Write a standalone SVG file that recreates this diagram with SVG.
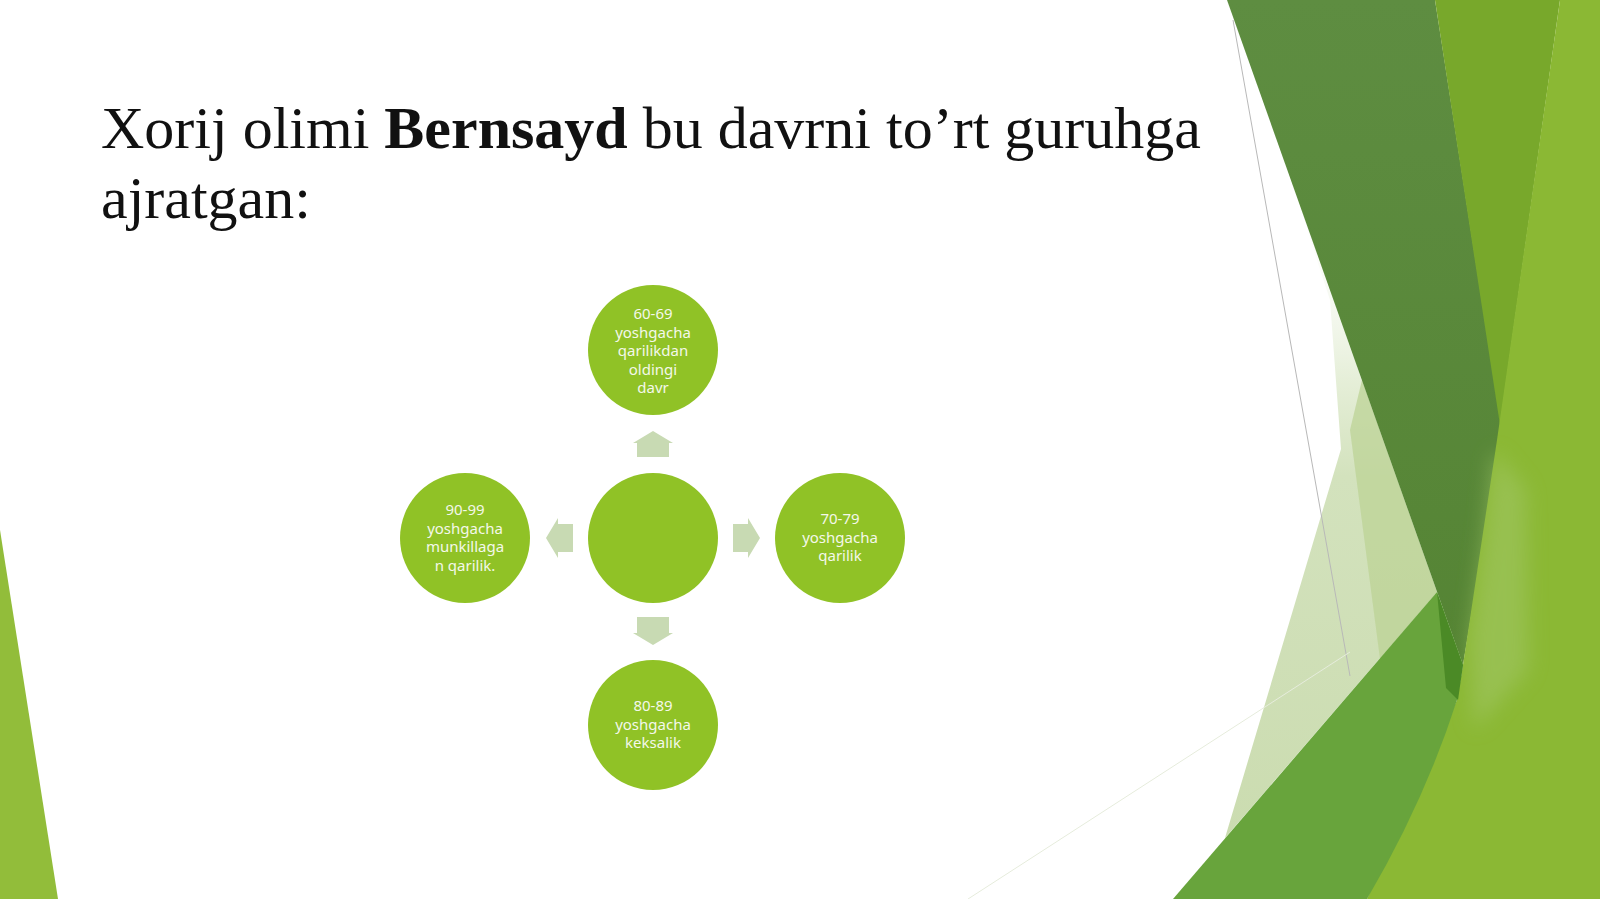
<svg xmlns="http://www.w3.org/2000/svg" width="1600" height="899" viewBox="0 0 1600 899">
  <style>
    .node { fill: #90C226; }
    .lbl { font-family: "Noto Sans", "Open Sans", sans-serif; font-size: 15px; fill: #f4f8ea; text-anchor: middle; }
    .arrow { fill: #c8dab3; }
    .title { font-family: "Liberation Serif", "Times New Roman", serif; font-size: 60px; fill: #111111; }
  </style>
  <defs>
    <linearGradient id="pale" x1="0" y1="0" x2="0" y2="1" gradientUnits="objectBoundingBox">
      <stop offset="0" stop-color="#ffffff" stop-opacity="0"/>
      <stop offset="0.3" stop-color="#e6efd9"/>
      <stop offset="0.45" stop-color="#d3e2bd"/>
      <stop offset="1" stop-color="#cbdcb0"/>
    </linearGradient>
    <linearGradient id="darkband" x1="0" y1="0" x2="0" y2="1">
      <stop offset="0" stop-color="#5e8d41"/>
      <stop offset="1" stop-color="#558434"/>
    </linearGradient>
    <filter id="soft" x="-50%" y="-30%" width="200%" height="160%">
      <feGaussianBlur stdDeviation="10"/>
    </filter>
  </defs>
  <rect x="0" y="0" width="1600" height="899" fill="#ffffff"/>

  <!-- background facets -->
  <g id="background">
    <polygon points="1291,180 1437,592 1225,838 1341,449 1330,300" fill="url(#pale)"/>
    <polygon points="1362,380 1437,592 1380,659 1350,430" fill="#bcd396" opacity="0.75"/>
    <polygon points="1227,0 1435,0 1502,430 1463,665" fill="url(#darkband)"/>
    <polygon points="1435,0 1560,0 1500,425" fill="#78a82b"/>
    <polygon points="1560,0 1600,0 1600,899 1367,899 1457,700 1463,665 1497,440" fill="#8bb834"/>
    <polygon points="1494,450 1526,490 1528,670 1474,730 1470,640 1484,540" fill="#a2c767" opacity="0.55" filter="url(#soft)"/>
    <path d="M1437,592 L1463,665 L1457,700 Q1425,800 1367,899 L1173,899 Z" fill="#68a43c"/>
    <polygon points="1437,592 1463,665 1458,700 1446,688" fill="#4b8a26"/>
    <line x1="1233" y1="20" x2="1350" y2="676" stroke="#b8b8b8" stroke-width="1"/>
    <line x1="968" y1="899" x2="1350" y2="652" stroke="#e6ecdc" stroke-width="1"/>
    <polygon points="0,530 58,899 0,899" fill="#92bd3a"/>
  </g>

  <!-- title -->
  <g id="title">
    <text class="title" x="101" y="148">Xorij olimi <tspan font-weight="bold">Bernsayd</tspan> bu davrni to’rt guruhga</text>
    <text class="title" x="101" y="218">ajratgan:</text>
  </g>

  <!-- connectors -->
  <g id="connectors">
    <polygon class="arrow" points="653,431 673,443 669,443 669,457 637,457 637,443 633,443"/>
    <polygon class="arrow" points="760,538 748,558 748,552 733,552 733,524 748,524 748,518"/>
    <polygon class="arrow" points="653,645 673,633 669,633 669,617 637,617 637,633 633,633"/>
    <polygon class="arrow" points="546,538 558,558 558,552 573,552 573,524 558,524 558,518"/>
  </g>

  <g id="center">
    <circle class="node" cx="653" cy="538" r="65"/>
  </g>

  <g id="node-top">
    <circle class="node" cx="653" cy="350" r="65"/>
    <text class="lbl" x="653" y="319">60-69</text>
    <text class="lbl" x="653" y="337.5">yoshgacha</text>
    <text class="lbl" x="653" y="356">qarilikdan</text>
    <text class="lbl" x="653" y="374.5">oldingi</text>
    <text class="lbl" x="653" y="393">davr</text>
  </g>

  <g id="node-right">
    <circle class="node" cx="840" cy="538" r="65"/>
    <text class="lbl" x="840" y="524">70-79</text>
    <text class="lbl" x="840" y="542.5">yoshgacha</text>
    <text class="lbl" x="840" y="561">qarilik</text>
  </g>

  <g id="node-bottom">
    <circle class="node" cx="653" cy="725" r="65"/>
    <text class="lbl" x="653" y="711">80-89</text>
    <text class="lbl" x="653" y="729.5">yoshgacha</text>
    <text class="lbl" x="653" y="748">keksalik</text>
  </g>

  <g id="node-left">
    <circle class="node" cx="465" cy="538" r="65"/>
    <text class="lbl" x="465" y="515">90-99</text>
    <text class="lbl" x="465" y="533.5">yoshgacha</text>
    <text class="lbl" x="465" y="552">munkillaga</text>
    <text class="lbl" x="465" y="570.5">n qarilik.</text>
  </g>
</svg>
